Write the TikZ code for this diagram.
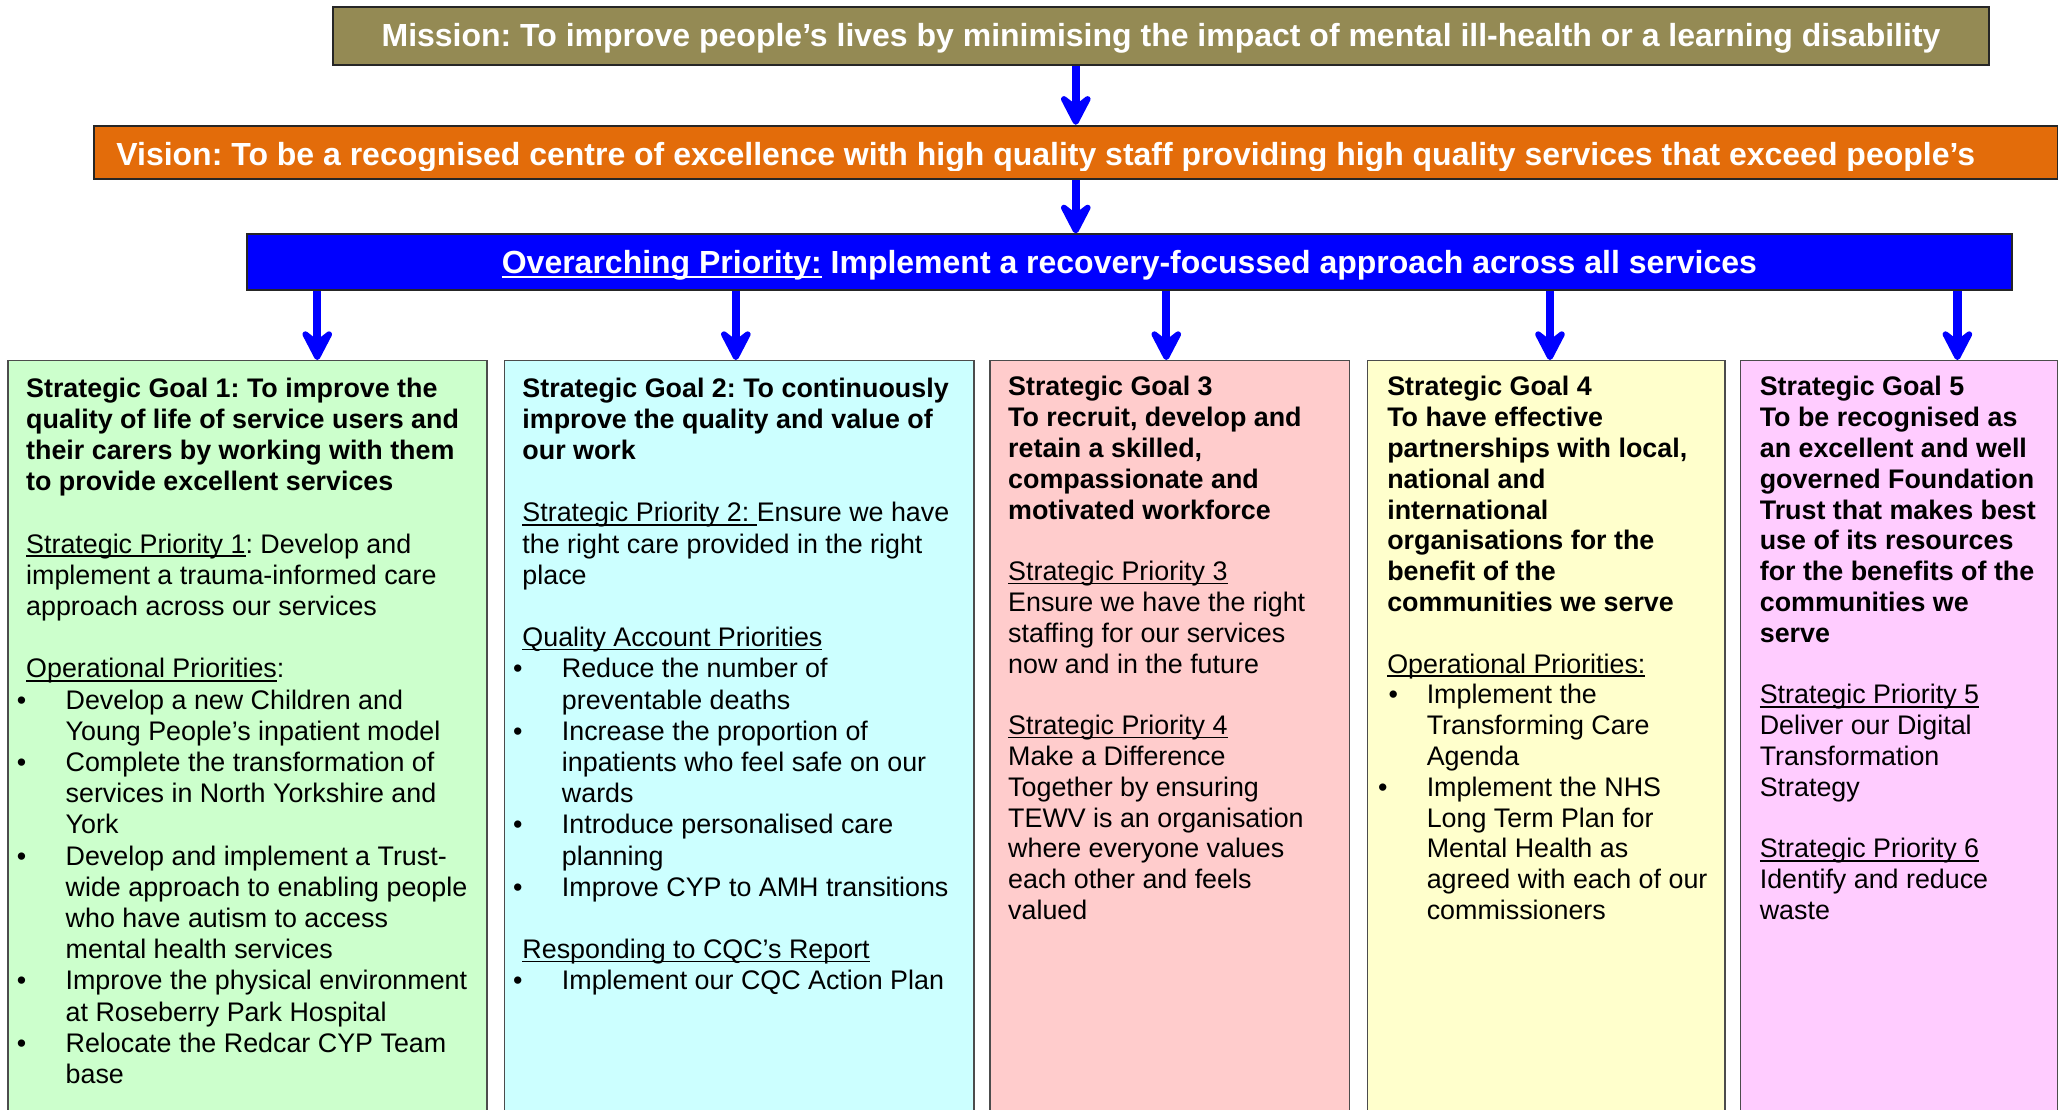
\documentclass[tikz,border=0pt]{standalone}
\usepackage{fontspec}
\setmainfont{Liberation Sans}
\usetikzlibrary{arrows.meta,positioning}
\definecolor{missionolive}{RGB}{148,138,84}
\definecolor{visionorange}{RGB}{227,108,10}
\definecolor{overblue}{RGB}{0,0,255}
\definecolor{arrowblue}{RGB}{0,0,255}
\definecolor{goalgreen}{RGB}{204,255,204}
\definecolor{goalcyan}{RGB}{204,255,255}
\definecolor{goalpink}{RGB}{255,204,204}
\definecolor{goalyellow}{RGB}{255,255,204}
\definecolor{goalmagenta}{RGB}{255,204,255}
\newlength{\bind}\setlength{\bind}{15pt}
\newcommand{\bl}[1][-3.5pt]{\makebox[\bind][l]{\hspace{#1}\textbullet}}
\newcommand{\cl}{\makebox[\bind]{}}
\newsavebox{\ulnbox}
\newcommand{\uln}[1]{\sbox{\ulnbox}{#1}\rlap{\rule[-1.4pt]{\wd\ulnbox}{0.5pt}}\usebox{\ulnbox}}
\begin{document}
\frenchspacing
\begin{tikzpicture}[x=0.5pt,y=-0.5pt,
  topbox/.style={draw=black!85,line width=0.7pt,inner sep=0pt},
  toptext/.style={text=white,font=\fontsize{12.15pt}{14pt}\selectfont\bfseries},
  goalbox/.style={draw=black!70,line width=0.5pt,inner sep=0pt,minimum height=288pt},
  goaltext/.style={inner sep=0pt,align=left,font=\fontsize{10.2pt}{#1}\selectfont},
  goaltext/.default=11.7pt,
  bluearrow/.style={draw=arrowblue,line width=3.2pt,-{Stealth[length=15pt,width=15.5pt,inset=6pt,round]}}]
\useasboundingbox (0,0) rectangle (1568,843);
%%
\node (mission) at (882,27.25) [topbox,toptext,fill=missionolive,minimum width=629pt,minimum height=22pt,text height=10.5pt,text depth=2.25pt] {Mission: To improve people’s lives by minimising the impact of mental ill-health or a learning disability};
\node (vision) at (817.25,115.75) [topbox,fill=visionorange,minimum width=745.75pt,minimum height=20.25pt] {};
\begin{scope}
  \clip (vision.north west) rectangle ([yshift=3.75pt]vision.south east);
  \node (visiontext) at (88,126) [toptext,anchor=base west,inner sep=0pt] {Vision: To be a recognised centre of excellence with high quality staff providing high quality services that exceed people’s};
\end{scope}
\node (overarch) at (858,199) [topbox,toptext,fill=overblue,minimum width=670.5pt,minimum height=21pt,text height=11pt,text depth=2pt] {\uln{Overarching Priority:} Implement a recovery-focussed approach across all services};
%%
\node (goal1) at (188,562) [goalbox,fill=goalgreen,minimum width=182pt] {};
\node (goal2) at (561.5,562) [goalbox,fill=goalcyan,minimum width=178.5pt] {};
\node (goal3) at (888.5,562) [goalbox,fill=goalpink,minimum width=136.5pt] {};
\node (goal4) at (1174.75,562) [goalbox,fill=goalyellow,minimum width=135.75pt] {};
\node (goal5) at (1442.5,562) [goalbox,fill=goalmagenta,minimum width=120.5pt] {};
%%
\node (goal1text) [goaltext=11.85pt,below right=6.5pt and 7pt of goal1.north west] {%
\textbf{Strategic Goal 1: To improve the}\\
\textbf{quality of life of service users and}\\
\textbf{their carers by working with them}\\
\textbf{to provide excellent services}\\[\baselineskip]
\uln{Strategic Priority 1}: Develop and\\
implement a trauma-informed care\\
approach across our services\\[\baselineskip]
\uln{Operational Priorities}:\\
\bl Develop a new Children and\\
\cl Young People’s inpatient model\\
\bl Complete the transformation of\\
\cl services in North Yorkshire and\\
\cl York\\
\bl Develop and implement a Trust-\\
\cl wide approach to enabling people\\
\cl who have autism to access\\
\cl mental health services\\
\bl Improve the physical environment\\
\cl at Roseberry Park Hospital\\
\bl Relocate the Redcar CYP Team\\
\cl base};
\node (goal2text) [goaltext=11.85pt,below right=6.5pt and 7pt of goal2.north west] {%
\textbf{Strategic Goal 2: To continuously}\\
\textbf{improve the quality and value of}\\
\textbf{our work}\\[\baselineskip]
\uln{Strategic Priority 2: }Ensure we have\\
the right care provided in the right\\
place\\[\baselineskip]
\uln{Quality Account Priorities}\\
\bl Reduce the number of\\
\cl preventable deaths\\
\bl Increase the proportion of\\
\cl inpatients who feel safe on our\\
\cl wards\\
\bl Introduce personalised care\\
\cl planning\\
\bl Improve CYP to AMH transitions\\[\baselineskip]
\uln{Responding to CQC’s Report}\\
\bl Implement our CQC Action Plan};
\node (goal3text) [goaltext,below right=6pt and 7pt of goal3.north west] {%
\textbf{Strategic Goal 3}\\
\textbf{To recruit, develop and}\\
\textbf{retain a skilled,}\\
\textbf{compassionate and}\\
\textbf{motivated workforce}\\[\baselineskip]
\uln{Strategic Priority 3}\\
Ensure we have the right\\
staffing for our services\\
now and in the future\\[\baselineskip]
\uln{Strategic Priority 4}\\
Make a Difference\\
Together by ensuring\\
TEWV is an organisation\\
where everyone values\\
each other and feels\\
valued};
\node (goal4text) [goaltext,below right=6pt and 7.5pt of goal4.north west] {%
\textbf{Strategic Goal 4}\\
\textbf{To have effective}\\
\textbf{partnerships with local,}\\
\textbf{national and}\\
\textbf{international}\\
\textbf{organisations for the}\\
\textbf{benefit of the}\\
\textbf{communities we serve}\\[\baselineskip]
\uln{Operational Priorities:}\\
\bl[0.5pt]Implement the\\
\cl Transforming Care\\
\cl Agenda\\
\bl Implement the NHS\\
\cl Long Term Plan for\\
\cl Mental Health as\\
\cl agreed with each of our\\
\cl commissioners};
\node (goal5text) [goaltext,below right=6pt and 7.5pt of goal5.north west] {%
\textbf{Strategic Goal 5}\\
\textbf{To be recognised as}\\
\textbf{an excellent and well}\\
\textbf{governed Foundation}\\
\textbf{Trust that makes best}\\
\textbf{use of its resources}\\
\textbf{for the benefits of the}\\
\textbf{communities we}\\
\textbf{serve}\\[\baselineskip]
\uln{Strategic Priority 5}\\
Deliver our Digital\\
Transformation\\
Strategy\\[\baselineskip]
\uln{Strategic Priority 6}\\
Identify and reduce\\
waste};
%%
\draw [bluearrow] (mission.south -| vision.north) -- (vision.north);
\draw [bluearrow] (vision.south) -- (overarch.north -| vision.south);
\foreach \g/\x in {1/241,2/559,3/886,4/1177.5,5/1487} {
  \coordinate (a\g) at (\x,0);
  \draw [bluearrow] (overarch.south -| a\g) -- (goal\g.north -| a\g);
}
%
\end{tikzpicture}
\end{document}
